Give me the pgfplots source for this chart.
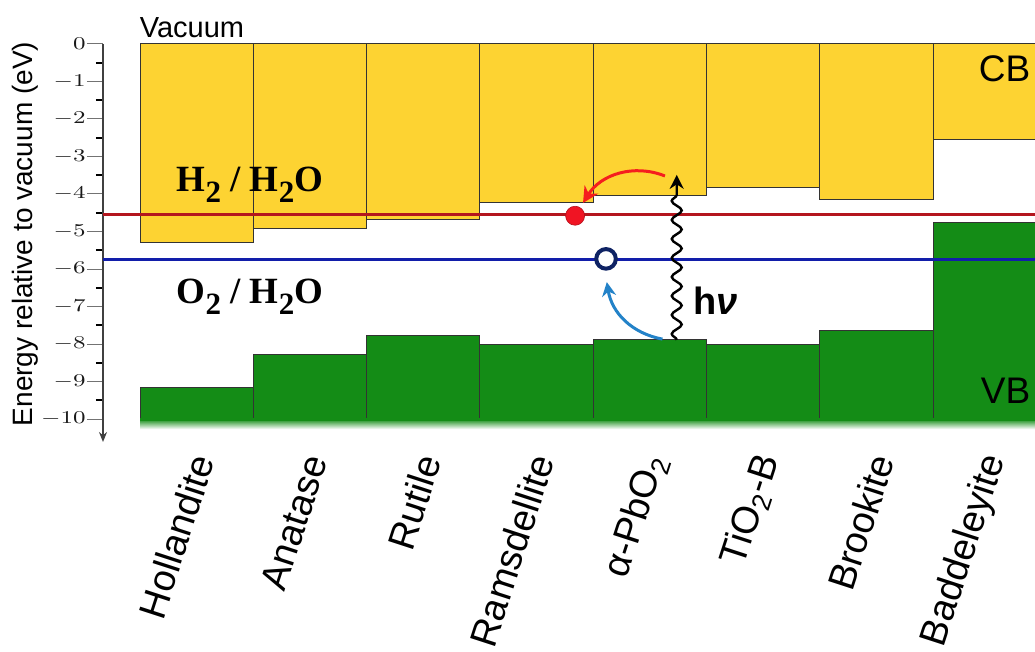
\documentclass[border=0pt]{standalone}
\usepackage{pgfplots}
\pgfplotsset{compat=1.18}
\usepackage{graphicx}
\usepackage{fontspec}
\setmainfont{Liberation Sans}
\newfontfamily\tms{Liberation Serif}
\usetikzlibrary{arrows.meta,decorations.pathmorphing}

\definecolor{cbyellow}{RGB}{253,211,50}
\definecolor{vbgreen}{RGB}{20,140,22}
\definecolor{hline}{RGB}{180,22,30}
\definecolor{oline}{RGB}{18,30,170}
\definecolor{edot}{RGB}{240,20,35}
\definecolor{hole}{RGB}{15,35,100}
\definecolor{redarr}{RGB}{245,30,30}
\definecolor{bluearr}{RGB}{35,130,200}
\newcommand\sub[1]{\raisebox{-5.5pt}{\fontsize{15.5}{15.5}\selectfont #1}}

\begin{document}
\begin{tikzpicture}
\begin{axis}[name=ax, scale only axis, width=466pt, height=199pt,
  xmin=-0.3266, xmax=7.899, ymin=-10.613, ymax=0, clip=false,
  axis x line*=bottom, x axis line style={draw=none},
  xtick={0.5,1.5,...,7.5}, xtick style={draw=none},
  xticklabels={Hollandite,Anatase,Rutile,Ramsdellite,{α-PbO\textsubscript{2}},{TiO\textsubscript{2}-B},Brookite,Baddeleyite},
  xticklabel style={rotate=72, anchor=east, inner sep=0pt, font=\fontsize{19}{19}\selectfont, xshift=2pt, yshift=-2.5pt},
  axis y line*=left, y axis line style={draw=black!75, line width=0.6pt, {Stealth[length=5pt,width=4pt]}-},
  ytick={0,-1,...,-10}, minor ytick={-0.5,-1.5,...,-9.5}, tick align=outside,
  major tick length=8pt, minor tick length=3.5pt,
  major y tick style={draw=black!55, line width=0.5pt},
  minor y tick style={draw=black, line width=1.1pt},
  yticklabel={\scalebox{1.35}[1]{\pgfmathprintnumber{\tick}}},
  yticklabel style={font=\fontsize{9.5}{10}\selectfont, inner sep=0.5pt, text=black!90},
  ylabel={Energy relative to vacuum (eV)},
  ylabel style={font=\fontsize{14}{14}\selectfont, at={(axis description cs:-0.0837,0.5226)}, anchor=center},
]
% conduction bands
\addplot[ybar interval, fill=cbyellow, draw=black!80, line width=0.5pt] coordinates {
 (0,-5.28) (1,-4.91) (2,-4.69) (3,-4.24) (4,-4.05) (5,-3.82) (6,-4.14) (7,-2.56) (8,-2.56)};
% valence bands
\addplot[fill=vbgreen, draw=black!80, line width=0.5pt] coordinates {(0,-10) (0,-9.15) (1,-9.15) (1,-10) (0,-10)};
\addplot[fill=vbgreen, draw=black!80, line width=0.5pt] coordinates {(1,-10) (1,-8.28) (2,-8.28) (2,-10) (1,-10)};
\addplot[fill=vbgreen, draw=black!80, line width=0.5pt] coordinates {(2,-10) (2,-7.78) (3,-7.78) (3,-10) (2,-10)};
\addplot[fill=vbgreen, draw=black!80, line width=0.5pt] coordinates {(3,-10) (3,-8.01) (4,-8.01) (4,-10) (3,-10)};
\addplot[fill=vbgreen, draw=black!80, line width=0.5pt] coordinates {(4,-10) (4,-7.89) (5,-7.89) (5,-10) (4,-10)};
\addplot[fill=vbgreen, draw=black!80, line width=0.5pt] coordinates {(5,-10) (5,-8.01) (6,-8.01) (6,-10) (5,-10)};
\addplot[fill=vbgreen, draw=black!80, line width=0.5pt] coordinates {(6,-10) (6,-7.65) (7,-7.65) (7,-10) (6,-10)};
\addplot[fill=vbgreen, draw=black!80, line width=0.5pt] coordinates {(7,-10) (7,-4.75) (8,-4.75) (8,-10) (7,-10)};
\fill[top color=vbgreen, bottom color=white] (axis cs:0,-10) rectangle (axis cs:7.899,-10.27);
\fill[vbgreen] (axis cs:0,-9.98) rectangle (axis cs:7.899,-10.05);
% redox levels
\addplot[hline, line width=1.5pt] coordinates {(-0.3266,-4.54) (7.899,-4.54)};
\addplot[oline, line width=1.5pt] coordinates {(-0.3266,-5.74) (7.899,-5.74)};
% labels
\node[font=\tms\bfseries\fontsize{18.5}{18.5}\selectfont] at (axis cs:0.971,-3.76) {H\sub{2} / H\sub{2}O};
\node[font=\tms\bfseries\fontsize{18.5}{18.5}\selectfont] at (axis cs:0.971,-6.75) {O\sub{2} / H\sub{2}O};
\node[font=\bfseries\fontsize{19}{19}\selectfont] at (axis cs:5.08,-6.85) {h\textit{ν}};
\node[font=\fontsize{18.5}{18.5}\selectfont] at (axis cs:7.63,-0.67) {CB};
\node[font=\fontsize{18.5}{18.5}\selectfont] at (axis cs:7.64,-9.25) {VB};
\node[font=\fontsize{14.5}{14.5}\selectfont] at (axis cs:0.459,0.43) {Vacuum};
% arrows
\draw[redarr, line width=1.5pt, -{Stealth[length=8pt,width=8pt]}] (axis cs:4.633,-3.52) to[bend right=40] (axis cs:3.91,-4.24);
\draw[bluearr, line width=1.5pt, -{Stealth[length=7pt,width=7pt]}] (axis cs:4.611,-7.87) to[bend left=35] (axis cs:4.12,-6.35);
\draw[black, line width=1.2pt, -{Stealth[length=7pt,width=7pt]}, decorate, decoration={snake, amplitude=2.5pt, segment length=9.5pt, post length=7pt}] (axis cs:4.737,-7.89) -- (axis cs:4.737,-3.49);
% electron and hole
\addplot[only marks, mark=*, mark size=4.75pt, mark options={fill=edot, draw=edot!75!black, line width=0.3pt}] coordinates {(3.84,-4.58)};
\addplot[only marks, mark=*, mark size=4.9pt, mark options={fill=white, draw=hole, line width=2pt}] coordinates {(4.113,-5.73)};
\end{axis}
\pgfresetboundingbox
\path[use as bounding box] ([xshift=-51.5pt,yshift=-105pt]ax.south west) rectangle ([yshift=22pt]ax.north east);
\end{tikzpicture}
\end{document}
